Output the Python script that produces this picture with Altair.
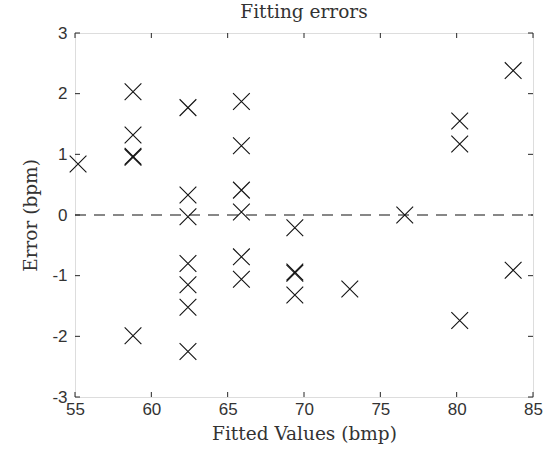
import altair as alt
import pandas as pd

# Fitted heart-rate values and the corresponding fitting errors
fitted = [55.2,
          58.8, 58.8, 58.8, 58.8, 58.8,
          62.4, 62.4, 62.4, 62.4, 62.4, 62.4, 62.4,
          65.9, 65.9, 65.9, 65.9, 65.9, 65.9,
          69.4, 69.4, 69.4, 69.4,
          73.0,
          76.6,
          80.2, 80.2, 80.2,
          83.7, 83.7]
errors = [0.84,
          2.03, 1.32, 0.97, 0.95, -1.99,
          1.77, 0.33, -0.03, -0.80, -1.15, -1.52, -2.25,
          1.87, 1.14, 0.41, 0.05, -0.69, -1.06,
          -0.21, -0.94, -0.96, -1.32,
          -1.22,
          0.00,
          1.55, 1.17, -1.74,
          2.38, -0.91]

x_ticks = [55, 60, 65, 70, 75, 80, 85]
y_ticks = [-3, -2, -1, 0, 1, 2, 3]
x_limits = [55, 85]
y_limits = [-3, 3]

W, H = 458, 364
AX = "#262626"
SERIF = "DejaVu Serif"
SANS = "Liberation Sans"

pts = pd.DataFrame({"fitted": fitted, "error": errors})
xt = pd.DataFrame({"v": x_ticks})
yt = pd.DataFrame({"v": y_ticks})
zero = pd.DataFrame({"x": [x_limits[0]], "x2": [x_limits[1]], "y": [0]})

xs = alt.Scale(domain=x_limits, nice=False, zero=False)
ys = alt.Scale(domain=y_limits, nice=False, zero=False)

common = dict(ticks=False, domain=False, grid=False, labelFlush=False,
              labelOverlap=False, labelExpr="'' + datum.value",
              labelFont=SANS, labelFontSize=17, labelColor="#333333",
              titleFont=SERIF, titleFontSize=18.5, titleFontWeight="normal",
              titleColor="#333333")
x_axis = alt.Axis(values=x_ticks, labelPadding=4, titlePadding=7, **common)
y_axis = alt.Axis(values=y_ticks, labelPadding=8, titlePadding=11, **common)

scatter = alt.Chart(pts).mark_point(
    shape="M-1,-1L1,1M1,-1L-1,1", filled=False, size=280,
    color="#111111", strokeWidth=1.1, opacity=1
).encode(
    x=alt.X("fitted:Q", scale=xs, axis=x_axis, title="Fitted Values (bmp)"),
    y=alt.Y("error:Q", scale=ys, axis=y_axis, title="Error (bpm)"),
)

zero_line = alt.Chart(zero).mark_rule(
    color="#111111", strokeWidth=1.2, strokeDash=[11, 8]
).encode(x=alt.X("x:Q", scale=xs), x2="x2:Q", y=alt.Y("y:Q", scale=ys))

# inward tick marks on all four sides of the box
tick_style = dict(color=AX, strokeWidth=1)
x_bottom = alt.Chart(xt).mark_rule(**tick_style).encode(
    x=alt.X("v:Q", scale=xs), y=alt.value(H), y2=alt.value(H - 5))
x_top = alt.Chart(xt).mark_rule(**tick_style).encode(
    x=alt.X("v:Q", scale=xs), y=alt.value(0), y2=alt.value(5))
y_left = alt.Chart(yt).mark_rule(**tick_style).encode(
    y=alt.Y("v:Q", scale=ys), x=alt.value(0), x2=alt.value(5))
y_right = alt.Chart(yt).mark_rule(**tick_style).encode(
    y=alt.Y("v:Q", scale=ys), x=alt.value(W), x2=alt.value(W - 5))

chart = alt.layer(
    zero_line, x_bottom, x_top, y_left, y_right, scatter
).properties(
    width=W, height=H,
    title=alt.TitleParams("Fitting errors", font=SERIF, fontSize=18.5,
                          fontWeight="normal", color="#333333", offset=3),
    autosize=alt.AutoSizeParams(type="none"),
    padding={"left": 75, "top": 33, "right": 21, "bottom": 57},
).configure_view(
    stroke=AX, strokeWidth=1.2
).configure(background="white")

chart.save("out.html", embed_options={"renderer": "svg", "actions": False})
